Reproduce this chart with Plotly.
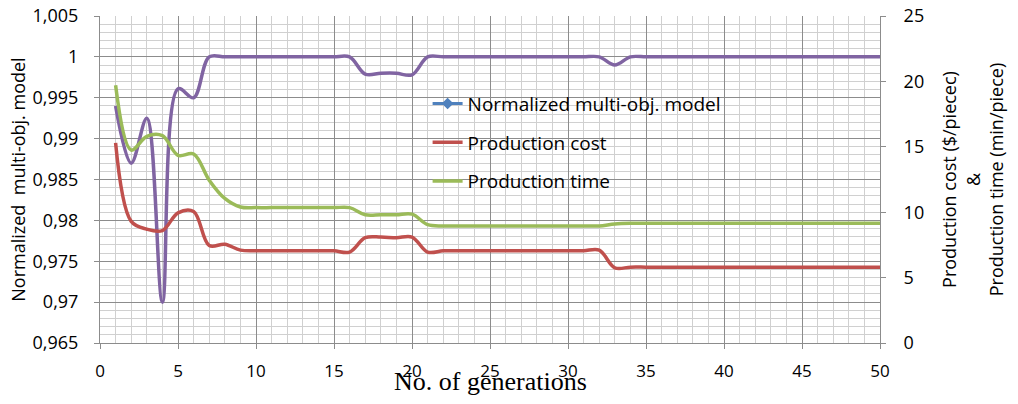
import plotly.graph_objects as go

generations = list(range(1, 51))

normalized_model = [
    0.994, 0.987, 0.9925, 0.970, 0.9961, 0.995, 1.0, 1.0, 1.0, 1.0,
    1.0, 1.0, 1.0, 1.0, 1.0, 1.0, 0.9979, 0.998, 0.998, 0.9978,
    1.0, 1.0, 1.0, 1.0, 1.0, 1.0, 1.0, 1.0, 1.0, 1.0,
    1.0, 1.0, 0.999, 1.0, 1.0, 1.0, 1.0, 1.0, 1.0, 1.0,
    1.0, 1.0, 1.0, 1.0, 1.0, 1.0, 1.0, 1.0, 1.0, 1.0,
]

production_cost = [
    15.3, 9.3, 8.7, 8.6, 9.95, 10.05, 7.45, 7.55, 7.1, 7.05,
    7.05, 7.05, 7.05, 7.05, 7.05, 6.95, 8.05, 8.1, 8.05, 8.1,
    6.95, 7.05, 7.05, 7.05, 7.05, 7.05, 7.05, 7.05, 7.05, 7.05,
    7.05, 7.1, 5.75, 5.8, 5.8, 5.8, 5.8, 5.8, 5.8, 5.8,
    5.8, 5.8, 5.8, 5.8, 5.8, 5.8, 5.8, 5.8, 5.8, 5.8,
]

production_time = [
    19.7, 14.75, 15.8, 15.85, 14.35, 14.45, 12.45, 11.05, 10.4, 10.35,
    10.35, 10.35, 10.35, 10.35, 10.35, 10.35, 9.8, 9.8, 9.8, 9.85,
    9.05, 8.95, 8.95, 8.95, 8.95, 8.95, 8.95, 8.95, 8.95, 8.95,
    8.95, 8.95, 9.1, 9.15, 9.15, 9.15, 9.15, 9.15, 9.15, 9.15,
    9.15, 9.15, 9.15, 9.15, 9.15, 9.15, 9.15, 9.15, 9.15, 9.15,
]

left_tick_vals = [0.965, 0.97, 0.975, 0.98, 0.985, 0.99, 0.995, 1.0, 1.005]
left_tick_text = ["0,965", "0,97", "0,975", "0,98", "0,985", "0,99", "0,995", "1", "1,005"]
right_tick_vals = [0, 5, 10, 15, 20, 25]
x_tick_vals = [0, 5, 10, 15, 20, 25, 30, 35, 40, 45, 50]

PURPLE = "#8064A2"
BLUE = "#4F81BD"
RED = "#C0504D"
GREEN = "#9BBB59"
FONT = "Open Sans"

fig = go.Figure()

# legend-only entry (Excel legend shows blue with diamond marker)
fig.add_trace(go.Scatter(
    x=[None], y=[None], name="Normalized multi-obj. model",
    mode="lines+markers", line=dict(color=BLUE, width=3),
    marker=dict(symbol="diamond", size=9, color=BLUE),
    legendgroup="a",
))
fig.add_trace(go.Scatter(
    x=generations, y=normalized_model, name="Normalized multi-obj. model",
    mode="lines", line=dict(color=PURPLE, width=3.5, shape="spline", smoothing=1),
    showlegend=False, legendgroup="a",
))
fig.add_trace(go.Scatter(
    x=generations, y=production_cost, name="Production cost",
    mode="lines", line=dict(color=RED, width=3.5, shape="spline", smoothing=1),
    yaxis="y2", legendgroup="b",
))
fig.add_trace(go.Scatter(
    x=generations, y=production_time, name="Production time",
    mode="lines", line=dict(color=GREEN, width=3.5, shape="spline", smoothing=1),
    yaxis="y2", legendgroup="c",
))

major_grid = "#8C8C8C"
minor_grid = "#D0D0D0"

fig.update_layout(
    width=1018, height=404,
    margin=dict(l=100, r=138, t=16, b=61),
    paper_bgcolor="white", plot_bgcolor="white",
    font=dict(family=FONT, size=18, color="#000000"),
    showlegend=True,
    legend=dict(
        x=0.42, y=0.79, xanchor="left", yanchor="top",
        bgcolor="rgba(0,0,0,0)", font=dict(size=19, family=FONT),
        traceorder="grouped", tracegroupgap=11,
    ),
    xaxis=dict(
        range=[0, 50], tickvals=x_tick_vals, ticks="outside", ticklen=5,
        tickcolor=major_grid, showgrid=True, gridcolor=major_grid, gridwidth=1,
        minor=dict(dtick=1, showgrid=True, gridcolor=minor_grid, gridwidth=1),
        showline=True, linecolor=major_grid, zeroline=False, automargin=False,
        tickfont=dict(size=17), ticklabelstandoff=8,
    ),
    yaxis=dict(
        range=[0.965, 1.005], tickvals=left_tick_vals, ticktext=left_tick_text,
        ticks="outside", ticklen=5, tickcolor=major_grid,
        showgrid=True, gridcolor=major_grid, gridwidth=1,
        minor=dict(dtick=0.001, tick0=0.965, showgrid=True, gridcolor=minor_grid, gridwidth=1),
        showline=True, linecolor=major_grid, zeroline=False, automargin=False,
        tickfont=dict(size=18), ticklabelstandoff=12,
        title=dict(text="Normalized  multi-obj. model", font=dict(size=18), standoff=2),
    ),
    yaxis2=dict(
        range=[0, 25], tickvals=right_tick_vals, overlaying="y", side="right",
        ticks="outside", ticklen=5, tickcolor=major_grid,
        showgrid=False, showline=True, linecolor=major_grid, zeroline=False,
        automargin=False,
        tickfont=dict(size=18), ticklabelstandoff=14,
        title=dict(text="Production cost ($/piecec)<br>&<br>Production time (min/piece)",
                   font=dict(size=18), standoff=20),
    ),
    annotations=[dict(
        text="No. of generations", xref="paper", yref="paper",
        x=0.5, y=-0.118, xanchor="center", yanchor="middle", showarrow=False,
        font=dict(family="Liberation Serif", size=26, color="#000000"),
    )],
)

fig.write_html("out.html")
